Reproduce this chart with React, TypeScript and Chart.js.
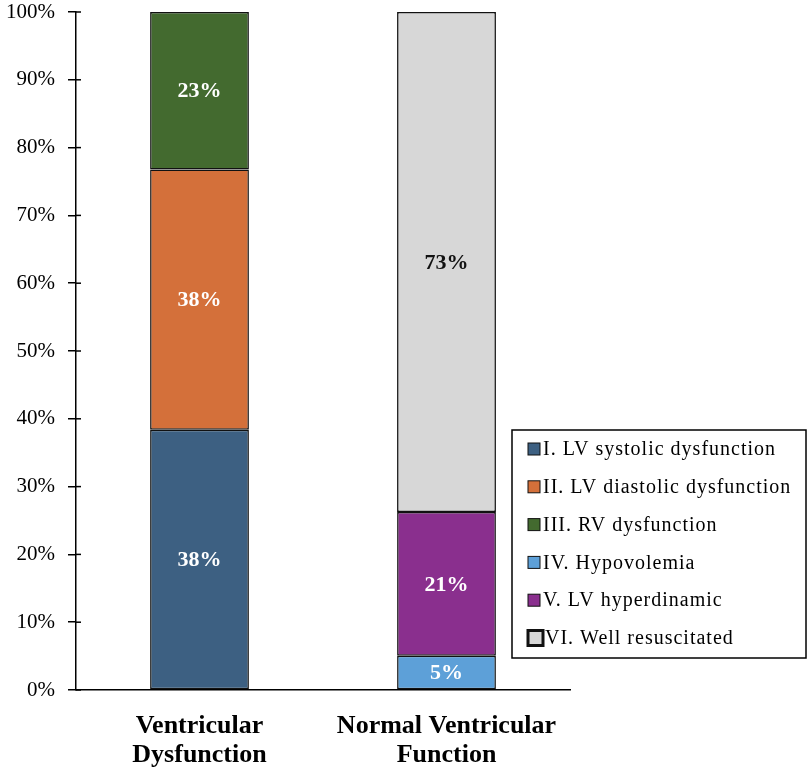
import React, { useEffect, useRef } from 'react';
import { Chart, registerables } from 'chart.js';

Chart.register(...registerables);

// Catégories (axe x) et séries, en pourcentages affichés
const categories = [
  ['Ventricular', 'Dysfunction'],
  ['Normal Ventricular', 'Function'],
];
const seriesNames = [
  'I. LV systolic dysfunction',
  'II. LV diastolic dysfunction',
  'III. RV dysfunction',
  'IV. Hypovolemia',
  'V. LV hyperdinamic',
  'VI. Well resuscitated',
];
const lvSystolic = [38, null];
const lvDiastolic = [38, null];
const rvDysfunction = [23, null];
const hypovolemia = [null, 5];
const lvHyperdinamic = [null, 21];
const wellResuscitated = [null, 73];
const yTicks = [0, 10, 20, 30, 40, 50, 60, 70, 80, 90, 100];

const seriesValues = [lvSystolic, lvDiastolic, rvDysfunction, hypovolemia, lvHyperdinamic, wellResuscitated];
const seriesColors = ['#3d6082', '#d4703a', '#436a2f', '#5da0d8', '#8a2f8e', '#d7d7d7'];
const labelColors = ['#fff', '#fff', '#fff', '#fff', '#fff', '#111'];

const FONT = '"Liberation Serif", "Times New Roman", serif';

// Graphique empilé à 100% : chaque colonne est ramenée à 100
const totals = categories.map((_, j) => seriesValues.reduce((s, arr) => s + (arr[j] ?? 0), 0));
const normalized = seriesValues.map(arr => arr.map((v, j) => (v == null ? null : (v / totals[j]) * 100)));

const valueLabels = {
  id: 'valueLabels',
  afterDatasetsDraw(chart: any) {
    const ctx = chart.ctx;
    ctx.save();
    ctx.font = `bold 22px ${FONT}`;
    ctx.textAlign = 'center';
    ctx.textBaseline = 'middle';
    chart.data.datasets.forEach((_: any, i: number) => {
      const meta = chart.getDatasetMeta(i);
      meta.data.forEach((bar: any, j: number) => {
        const raw = seriesValues[i][j];
        if (raw == null) return;
        const { x, y, base } = bar.getProps(['x', 'y', 'base'], true);
        ctx.fillStyle = labelColors[i];
        ctx.fillText(`${raw}%`, x, (y + base) / 2 + 1);
      });
    });
    ctx.restore();
  },
};

// Petites graduations à l'intérieur de l'axe y
const innerTicks = {
  id: 'innerTicks',
  afterDraw(chart: any) {
    const ctx = chart.ctx;
    const yScale = chart.scales.y;
    const left = chart.chartArea.left;
    ctx.save();
    ctx.strokeStyle = '#000';
    ctx.lineWidth = 1.5;
    yScale.ticks.forEach((t: any) => {
      const y = yScale.getPixelForValue(t.value);
      ctx.beginPath();
      ctx.moveTo(left, y);
      ctx.lineTo(left + 5, y);
      ctx.stroke();
    });
    ctx.restore();
  },
};

// Légende encadrée, posée par-dessus la zone du graphique
const boxLegend = {
  id: 'boxLegend',
  afterDraw(chart: any) {
    const ctx = chart.ctx;
    const bx = 512, by = 430, bw = 294, bh = 228;
    ctx.save();
    ctx.fillStyle = '#fff';
    ctx.fillRect(bx, by, bw, bh);
    ctx.strokeStyle = '#000';
    ctx.lineWidth = 1.5;
    ctx.strokeRect(bx, by, bw, bh);
    ctx.font = `20px ${FONT}`;
    (ctx as any).letterSpacing = '1px';
    ctx.textAlign = 'left';
    ctx.textBaseline = 'middle';
    chart.data.datasets.forEach((ds: any, i: number) => {
      const cy = by + 19 + i * 37.8;
      const last = i === chart.data.datasets.length - 1;
      const s = last ? 15 : 12;
      ctx.fillStyle = ds.backgroundColor;
      ctx.fillRect(528, cy - s / 2, s, s);
      ctx.lineWidth = last ? 3 : 1;
      ctx.strokeStyle = '#111';
      ctx.strokeRect(528, cy - s / 2, s, s);
      ctx.fillStyle = '#000';
      ctx.fillText(ds.label, last ? 545 : 543, cy + 1);
    });
    ctx.restore();
  },
};

export default function App() {
  const chartRef = useRef<HTMLCanvasElement>(null);
  const chartInstance = useRef<Chart | null>(null);

  useEffect(() => {
    if (!chartRef.current) return;
    if (chartInstance.current) chartInstance.current.destroy();
    const ctx = chartRef.current.getContext('2d');
    if (!ctx) return;

    chartInstance.current = new Chart(ctx, {
      type: 'bar',
      data: {
        labels: categories as any,
        datasets: seriesNames.map((name, i) => ({
          label: name,
          data: normalized[i] as any,
          backgroundColor: seriesColors[i],
          borderColor: '#111',
          borderWidth: 1.5,
          borderSkipped: false,
          barPercentage: 0.4,
          categoryPercentage: 1,
        })),
      },
      options: {
        responsive: true,
        maintainAspectRatio: false,
        animation: false,
        layout: { padding: { top: 12, right: 239, left: 0, bottom: 0 } },
        plugins: {
          legend: { display: false },
          tooltip: { enabled: false },
        },
        scales: {
          x: {
            stacked: true,
            grid: { display: false },
            border: { display: true, color: '#000', width: 1.5 },
            ticks: {
              color: '#000',
              padding: 14,
              maxRotation: 0,
              autoSkip: false,
              font: { family: FONT, size: 26, weight: 'bold', lineHeight: 1.12 },
            },
            afterFit: (axis: any) => {
              axis.height = 82;
              axis.paddingLeft = 0;
              axis.paddingRight = 0;
            },
          },
          y: {
            stacked: true,
            min: 0,
            max: 100,
            afterBuildTicks: (axis: any) => {
              axis.ticks = yTicks.map(v => ({ value: v }));
            },
            grid: {
              drawOnChartArea: false,
              drawTicks: true,
              tickLength: 8,
              color: '#000',
              lineWidth: 1.5,
            },
            border: { display: true, color: '#000', width: 1.5 },
            ticks: {
              color: '#000',
              padding: 13,
              font: { family: FONT, size: 21 },
              callback: (value: any) => `${value}%`,
            },
            afterFit: (axis: any) => {
              axis.width = 76;
              axis.paddingTop = 0;
              axis.paddingBottom = 0;
            },
          },
        },
      },
      plugins: [valueLabels, innerTicks, boxLegend],
    });

    return () => {
      if (chartInstance.current) {
        chartInstance.current.destroy();
        chartInstance.current = null;
      }
    };
  }, []);

  return (
    <div style={{ position: 'absolute', left: 0, top: 0, width: 809, height: 772, background: '#fff' }}>
      <canvas ref={chartRef} />
    </div>
  );
}
